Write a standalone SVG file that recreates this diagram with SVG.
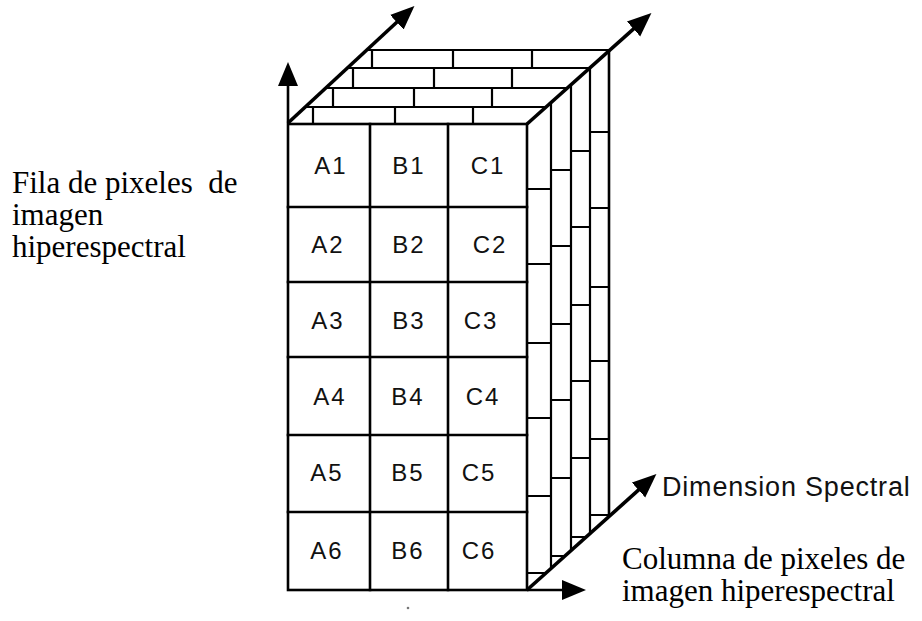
<svg xmlns="http://www.w3.org/2000/svg" width="922" height="621" viewBox="0 0 922 621">
<style>
.ln{stroke:#000;stroke-width:2.6;fill:none;stroke-linecap:square}
.th{stroke:#000;stroke-width:2.2;fill:none}
.ax{stroke:#000;stroke-width:3.6;fill:none}
.cell{font-family:"Liberation Sans",Arial,sans-serif;font-size:24px;fill:#111;text-anchor:middle;letter-spacing:2px}
.lbl{font-family:"Liberation Serif","Times New Roman",serif;font-size:31px;fill:#000}
.dim{font-family:"Liberation Sans",Arial,sans-serif;font-size:27px;fill:#111;letter-spacing:0.8px}
</style>
<defs>
<marker id="ah" markerUnits="userSpaceOnUse" markerWidth="24" markerHeight="22" refX="8" refY="11" orient="auto">
<path d="M0,1 L24,11 L0,21 Z" fill="#000"/>
</marker>
<clipPath id="topclip"><polygon points="281,129 369,48 613,48 527,124"/></clipPath>
<clipPath id="rightclip"><polygon points="524,126.7 614,46.4 614,512 524,592.7"/></clipPath>
</defs>
<rect width="922" height="621" fill="#fff"/>

<g id="top-face">
<g clip-path="url(#topclip)" class="th">
<line x1="280" y1="50" x2="620" y2="50"/>
<line x1="280" y1="68" x2="620" y2="68"/>
<line x1="280" y1="88" x2="620" y2="88"/>
<line x1="280" y1="107" x2="620" y2="107"/>
</g>
<g class="th">
<line x1="372" y1="50" x2="372" y2="68"/><line x1="453" y1="50" x2="453" y2="68"/><line x1="532" y1="50" x2="532" y2="68"/>
<line x1="353" y1="68" x2="353" y2="88"/><line x1="434" y1="68" x2="434" y2="88"/><line x1="512" y1="68" x2="512" y2="88"/>
<line x1="333" y1="88" x2="333" y2="107"/><line x1="414" y1="88" x2="414" y2="107"/><line x1="492" y1="88" x2="492" y2="107"/>
<line x1="313" y1="107" x2="313" y2="123"/><line x1="395" y1="107" x2="395" y2="123"/><line x1="473" y1="107" x2="473" y2="123"/>
</g>
</g>

<g id="right-face">
<g clip-path="url(#rightclip)" class="th">
<line x1="551" y1="0" x2="551" y2="621"/>
<line x1="571" y1="0" x2="571" y2="621"/>
<line x1="590" y1="0" x2="590" y2="621"/>
<line x1="609" y1="0" x2="609" y2="621" stroke-width="2.6"/>
<path d="M527,189H551M527,264H551M527,343H551M527,418H551M527,496H551M527,573H551"/>
<path d="M551,170H571M551,246H571M551,324H571M551,400H571M551,478H571M551,556H571"/>
<path d="M571,151H590M571,227H590M571,305H590M571,381H590M571,458H590M571,537H590"/>
<path d="M590,132H609M590,208H609M590,287H609M590,361H609M590,439H609M590,515H609"/>
</g>
</g>

<g id="front-face">
<rect x="288" y="124" width="239" height="466" class="ln"/>
<path class="ln" d="M370,124V590M448,124V590"/>
<path class="ln" d="M288,207H527M288,282H527M288,357H527M288,435H527M288,512H527"/>
<text class="cell" x="331" y="174">A1</text><text class="cell" x="409" y="174">B1</text><text class="cell" x="488" y="174">C1</text>
<text class="cell" x="328" y="253">A2</text><text class="cell" x="409" y="253">B2</text><text class="cell" x="490" y="253">C2</text>
<text class="cell" x="328" y="329">A3</text><text class="cell" x="409" y="329">B3</text><text class="cell" x="481" y="329">C3</text>
<text class="cell" x="330" y="405">A4</text><text class="cell" x="408" y="405">B4</text><text class="cell" x="483" y="405">C4</text>
<text class="cell" x="327" y="481">A5</text><text class="cell" x="408" y="481">B5</text><text class="cell" x="479" y="481">C5</text>
<text class="cell" x="327" y="559">A6</text><text class="cell" x="408" y="559">B6</text><text class="cell" x="479" y="559">C6</text>
</g>

<g id="connectors">
<line x1="288" y1="123" x2="288" y2="78" stroke="#000" stroke-width="2.6" marker-end="url(#ah)"/>
<line x1="288" y1="123" x2="402.7" y2="16.8" class="ax" marker-end="url(#ah)"/>
<line x1="527" y1="124" x2="639.5" y2="23.6" class="ax" marker-end="url(#ah)"/>
<line x1="527" y1="590" x2="644.5" y2="484.7" class="ax" marker-end="url(#ah)"/>
<line x1="527" y1="590" x2="570" y2="590" stroke="#000" stroke-width="2.6" marker-end="url(#ah)"/>
</g>

<g id="labels">
<text class="lbl" x="12" y="193" xml:space="preserve">Fila de pixeles  de</text>
<text class="lbl" x="12" y="225">imagen</text>
<text class="lbl" x="12" y="257">hiperespectral</text>
<text class="dim" x="662" y="496">Dimension Spectral</text>
<text class="lbl" x="622" y="569">Columna de pixeles de</text>
<text class="lbl" x="622" y="601">imagen hiperespectral</text>
</g>
<circle cx="408" cy="608" r="1.3" fill="#777"/>
</svg>
